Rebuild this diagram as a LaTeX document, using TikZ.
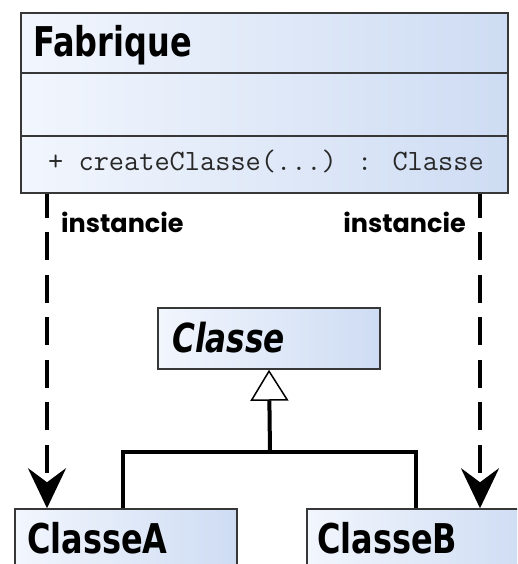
\documentclass[tikz,border=0pt]{standalone}
\usepackage{fontspec}
\usetikzlibrary{arrows.meta}
\newfontfamily\titlefont[FakeStretch=0.78]{DejaVu Sans}
\newfontfamily\labelfont{Poppins}
\definecolor{boxleft}{RGB}{242,246,253}
\definecolor{boxright}{RGB}{206,220,243}
\definecolor{boxline}{RGB}{55,55,55}
\definecolor{codegray}{RGB}{40,40,40}
\tikzset{
  umlbox/.style={draw=boxline, line width=1.5pt, left color=boxleft, right color=boxright, rectangle, inner sep=0pt},
  title/.style={anchor=base west, inner sep=0pt, font=\titlefont\bfseries\fontsize{41}{41}\selectfont},
  lbl/.style={inner sep=0pt, font=\labelfont\bfseries\fontsize{25.5}{25.5}\selectfont},
  depline/.style={line width=4pt, dash pattern=on 28pt off 14.5pt, dash phase=4pt, -{Stealth[length=40pt,width=38pt,inset=14pt]}},
  genline/.style={line width=4pt},
}
\begin{document}
\begin{tikzpicture}[x=1pt,y=-1pt]
\clip (0,0) rectangle (517,564);
\fill[white] (0,0) rectangle (517,564);
% Fabrique
\node[umlbox, minimum width=487pt, minimum height=180pt] (fab) at (264.5,103) {};
\draw[boxline, line width=1.5pt] (fab.west |- 0,73) -- (fab.east |- 0,73);
\draw[boxline, line width=1.5pt] (fab.west |- 0,136) -- (fab.east |- 0,136);
\node[title] (fabt) at (33,57) {Fabrique};
\node[anchor=base west, inner sep=0pt, text=codegray, font=\ttfamily\fontsize{29.5}{29.5}\selectfont] (meth) at (48,171) {+ createClasse(...) : Classe};
% Classe
\node[umlbox, minimum width=222pt, minimum height=61pt] (cls) at (269,338.5) {};
\node[title, font=\titlefont\bfseries\itshape\fontsize{40}{40}\selectfont] (clst) at (172,352) {Classe};
% ClasseA / ClasseB
\node[umlbox, minimum width=222pt, minimum height=100pt] (clA) at (126,559) {};
\node[title] (clAt) at (27,553) {ClasseA};
\node[umlbox, minimum width=222pt, minimum height=100pt] (clB) at (418,559) {};
\node[title] (clBt) at (317,553) {ClasseB};
% dependency arrows
\coordinate (xl) at (47,0);
\coordinate (xr) at (480,0);
\draw[depline] (fab.south -| xl) -- (clA.north -| xl);
\draw[depline] (fab.south -| xr) -- (clB.north -| xr);
\node[lbl, anchor=base west] (il) at (61,232) {instancie};
\node[lbl, anchor=base east] (ir) at (466,232) {instancie};
% generalization
\coordinate (j) at (270,452);
\coordinate (ja) at (123,452);
\coordinate (jb) at (416,452);
\draw[genline] (clA.north -| ja) -- (ja) -- (jb) -- (clB.north -| jb);
\draw[genline, -{Triangle[open, length=31pt, width=38pt, line width=1.5pt, fill=white]}] (j) -- (cls.south);
\end{tikzpicture}
\end{document}
